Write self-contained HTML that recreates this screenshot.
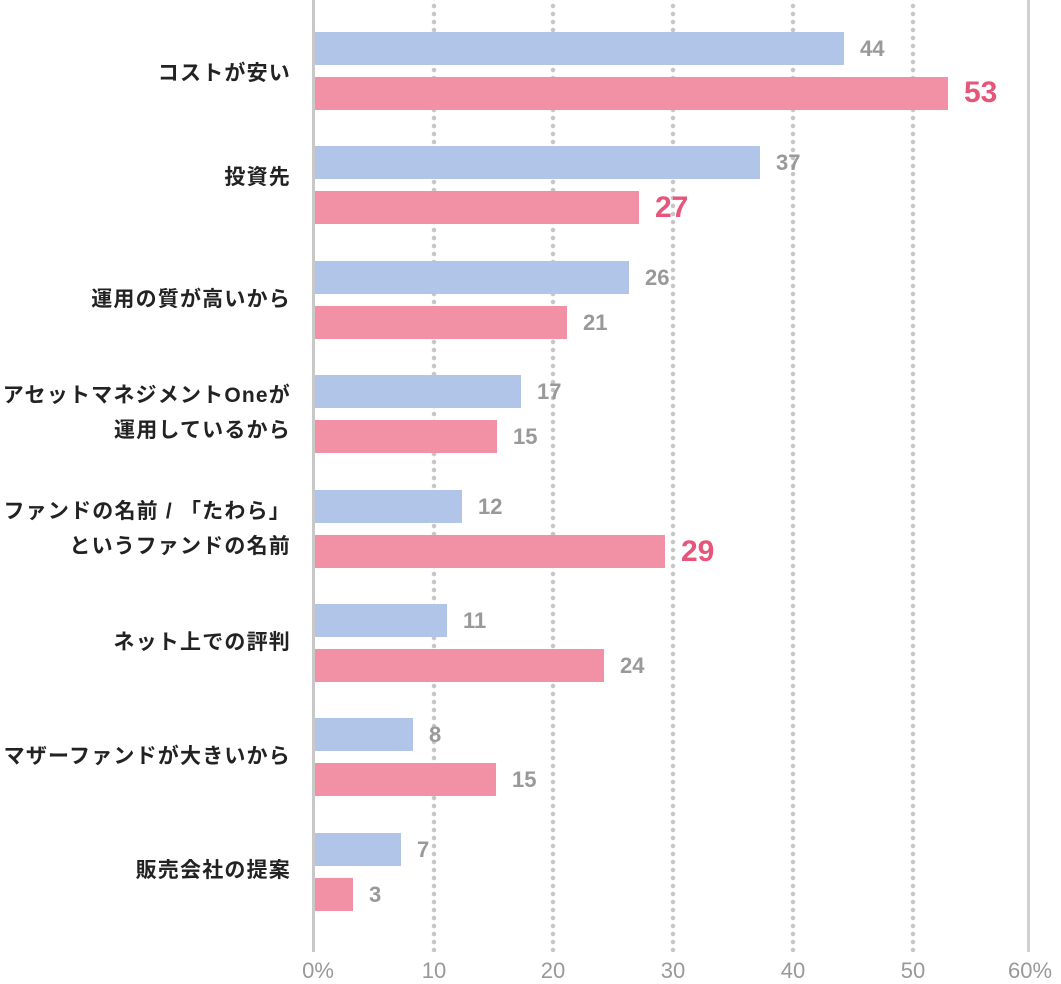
<!DOCTYPE html>
<html><head><meta charset="utf-8"><style>
body{margin:0;width:1061px;height:980px;background:#fff;position:relative;overflow:hidden;font-family:"Liberation Sans","Noto Sans CJK JP",sans-serif}
.a{position:absolute}
.g{position:absolute;top:0;height:952px;width:6px;background:radial-gradient(circle,#c6c6c6 2px,transparent 2.5px) 0 2px/6px 8px repeat-y}
.b{position:absolute;left:315px;height:33px}
.bl{background:#b1c5e8}.pk{background:#f291a5}
.v{position:absolute;font-weight:bold;color:#999;font-size:22px;line-height:22px}
.h{color:#e5567a;font-size:30px;line-height:30px}
.l{position:absolute;right:770px;text-align:right;font-weight:bold;font-size:21px;letter-spacing:1.2px;color:#222;line-height:35px;white-space:nowrap}
.t{position:absolute;top:958px;font-size:22px;color:#999;width:80px;text-align:center}
</style></head><body>
<div class="g" style="left:431px"></div><div class="g" style="left:550px"></div><div class="g" style="left:670px"></div><div class="g" style="left:790px"></div><div class="g" style="left:910px"></div>
<div class="a" style="left:312px;top:0;width:3px;height:952px;background:#c8c8c8"></div>
<div class="a" style="left:1027px;top:0;width:3px;height:952px;background:#d0d0d0"></div>

<div class="b bl" style="top:32px;width:529px"></div><div class="v" style="left:860px;top:38px">44</div>
<div class="b pk" style="top:77px;width:633px"></div><div class="v h" style="left:964px;top:78px">53</div>
<div class="l" style="top:56px">コストが安い</div>

<div class="b bl" style="top:146px;width:445px"></div><div class="v" style="left:776px;top:152px">37</div>
<div class="b pk" style="top:191px;width:324px"></div><div class="v h" style="left:655px;top:193px">27</div>
<div class="l" style="top:160px">投資先</div>

<div class="b bl" style="top:261px;width:314px"></div><div class="v" style="left:645px;top:267px">26</div>
<div class="b pk" style="top:306px;width:252px"></div><div class="v" style="left:583px;top:312px">21</div>
<div class="l" style="top:282px">運用の質が高いから</div>

<div class="b bl" style="top:375px;width:206px"></div><div class="v" style="left:537px;top:381px">17</div>
<div class="b pk" style="top:420px;width:182px"></div><div class="v" style="left:513px;top:426px">15</div>
<div class="l" style="top:378px">アセットマネジメントOneが<br>運用しているから</div>

<div class="b bl" style="top:490px;width:147px"></div><div class="v" style="left:478px;top:496px">12</div>
<div class="b pk" style="top:535px;width:350px"></div><div class="v h" style="left:681px;top:537px">29</div>
<div class="l" style="top:494px">ファンドの名前 / 「たわら」<br>というファンドの名前</div>

<div class="b bl" style="top:604px;width:132px"></div><div class="v" style="left:463px;top:610px">11</div>
<div class="b pk" style="top:649px;width:289px"></div><div class="v" style="left:620px;top:655px">24</div>
<div class="l" style="top:625px">ネット上での評判</div>

<div class="b bl" style="top:718px;width:98px"></div><div class="v" style="left:429px;top:724px">8</div>
<div class="b pk" style="top:763px;width:181px"></div><div class="v" style="left:512px;top:769px">15</div>
<div class="l" style="top:739px">マザーファンドが大きいから</div>

<div class="b bl" style="top:833px;width:86px"></div><div class="v" style="left:417px;top:839px">7</div>
<div class="b pk" style="top:878px;width:38px"></div><div class="v" style="left:369px;top:884px">3</div>
<div class="l" style="top:853px">販売会社の提案</div>

<div class="t" style="left:278px">0%</div><div class="t" style="left:394px">10</div><div class="t" style="left:513px">20</div><div class="t" style="left:633px">30</div><div class="t" style="left:753px">40</div><div class="t" style="left:873px">50</div><div class="t" style="left:990px">60%</div>
</body></html>
